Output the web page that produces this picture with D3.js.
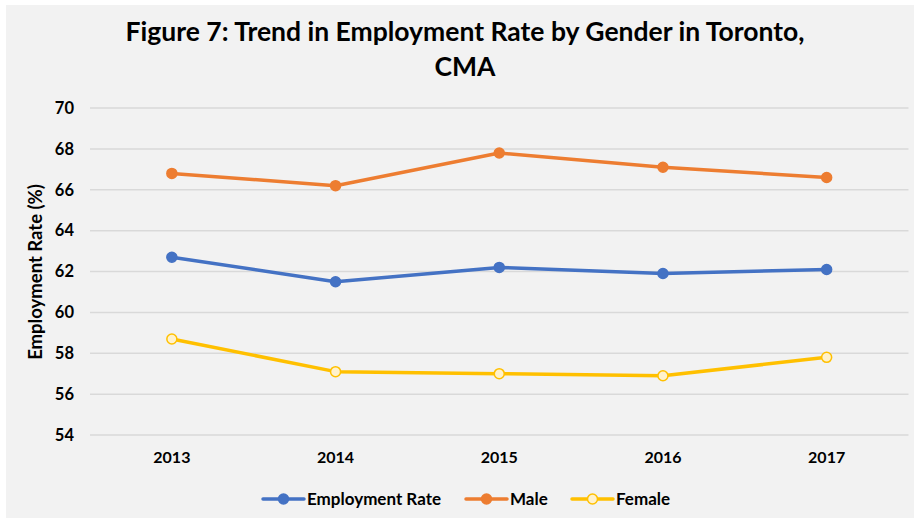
<!DOCTYPE html>
<html>
<head>
<meta charset="utf-8">
<script src="https://cdn.jsdelivr.net/npm/d3@7"></script>
<style>
  body { margin: 0; background: #ffffff; }
  text { font-family: Lato, "Open Sans", sans-serif; font-weight: bold; fill: #000; }
</style>
</head>
<body>
<div id="chart"></div>
<script>
// Data
var years = ["2013", "2014", "2015", "2016", "2017"];
var employmentRate = [62.7, 61.5, 62.2, 61.9, 62.1];
var male = [66.8, 66.2, 67.8, 67.1, 66.6];
var female = [58.7, 57.1, 57.0, 56.9, 57.8];
var yTicks = [54, 56, 58, 60, 62, 64, 66, 68, 70];

var series = [
  {name: "Employment Rate", values: employmentRate, color: "#4472C4", fill: "#4472C4"},
  {name: "Male", values: male, color: "#ED7D31", fill: "#ED7D31"},
  {name: "Female", values: female, color: "#FFC000", fill: "#FFF2CC"}
];

var W = 914, H = 518;
var margin = {top: 108, right: 5, bottom: 83, left: 90};

var svg = d3.select("#chart").append("svg")
    .attr("width", W)
    .attr("height", H);

// chart area background
svg.append("rect")
    .attr("x", 6).attr("y", 5)
    .attr("width", W - 6).attr("height", H - 5)
    .attr("fill", "#F2F2F2");

// Title
svg.append("text")
    .attr("x", 465).attr("y", 41)
    .attr("text-anchor", "middle")
    .style("font-size", "26.5px")
    .text("Figure 7: Trend in Employment Rate by Gender in Toronto,");
svg.append("text")
    .attr("x", 465).attr("y", 76)
    .attr("text-anchor", "middle")
    .style("font-size", "26.5px")
    .text("CMA");

var x = d3.scaleBand()
    .domain(years)
    .range([margin.left, 908.5]);

var y = d3.scaleLinear()
    .domain([54, 70])
    .range([435, 108]);

// Gridlines
svg.append("g")
    .selectAll("line")
    .data(yTicks)
    .enter()
    .append("line")
    .attr("x1", margin.left).attr("x2", 908.5)
    .attr("y1", function(d) { return y(d); })
    .attr("y2", function(d) { return y(d); })
    .attr("stroke", "#D9D9D9")
    .attr("stroke-width", 1.5);

// Y axis labels
var yAxis = svg.append("g")
    .attr("transform", "translate(" + 82 + ",0)")
    .call(d3.axisLeft(y).tickValues(yTicks).tickSize(0).tickPadding(8));
yAxis.select(".domain").remove();
yAxis.selectAll("text")
    .style("font-size", "16.5px")
    .style("font-family", "Lato, sans-serif")
    .style("font-weight", "bold")
    .attr("fill", "#000");

// X axis labels
var xAxis = svg.append("g")
    .attr("transform", "translate(0,446)")
    .call(d3.axisBottom(x).tickSize(0).tickPadding(6));
xAxis.select(".domain").remove();
xAxis.selectAll("text")
    .style("font-size", "16px")
    .style("font-family", "Lato, sans-serif")
    .style("font-weight", "bold")
    .attr("fill", "#000");

// Y axis title
svg.append("text")
    .attr("transform", "translate(42,272) rotate(-90)")
    .attr("text-anchor", "middle")
    .style("font-size", "18.5px")
    .text("Employment Rate (%)");

// Lines and markers
var line = d3.line()
    .x(function(d, i) { return x(years[i]) + x.bandwidth() / 2; })
    .y(function(d) { return y(d); });

series.forEach(function(s) {
  svg.append("path")
      .datum(s.values)
      .attr("d", line)
      .attr("fill", "none")
      .attr("stroke", s.color)
      .attr("stroke-width", 3.5)
      .attr("stroke-linejoin", "round");

  svg.append("g")
      .selectAll("circle")
      .data(s.values)
      .enter()
      .append("circle")
      .attr("cx", function(d, i) { return x(years[i]) + x.bandwidth() / 2; })
      .attr("cy", function(d) { return y(d); })
      .attr("r", 5)
      .attr("fill", s.fill)
      .attr("stroke", s.color)
      .attr("stroke-width", 1.5);
});

// Legend
var legendX = [263, 466, 572];
var legend = svg.append("g");
series.forEach(function(s, i) {
  var lx = legendX[i], ly = 499;
  legend.append("line")
      .attr("x1", lx).attr("x2", lx + 41)
      .attr("y1", ly).attr("y2", ly)
      .attr("stroke", s.color)
      .attr("stroke-width", 3.5)
      .attr("stroke-linecap", "round");
  legend.append("circle")
      .attr("cx", lx + 20.5).attr("cy", ly)
      .attr("r", 5)
      .attr("fill", s.fill)
      .attr("stroke", s.color)
      .attr("stroke-width", 1.5);
  legend.append("text")
      .attr("x", lx + 44).attr("y", ly)
      .attr("dy", "0.35em")
      .style("font-size", "17px")
      .text(s.name);
});
</script>
</body>
</html>
